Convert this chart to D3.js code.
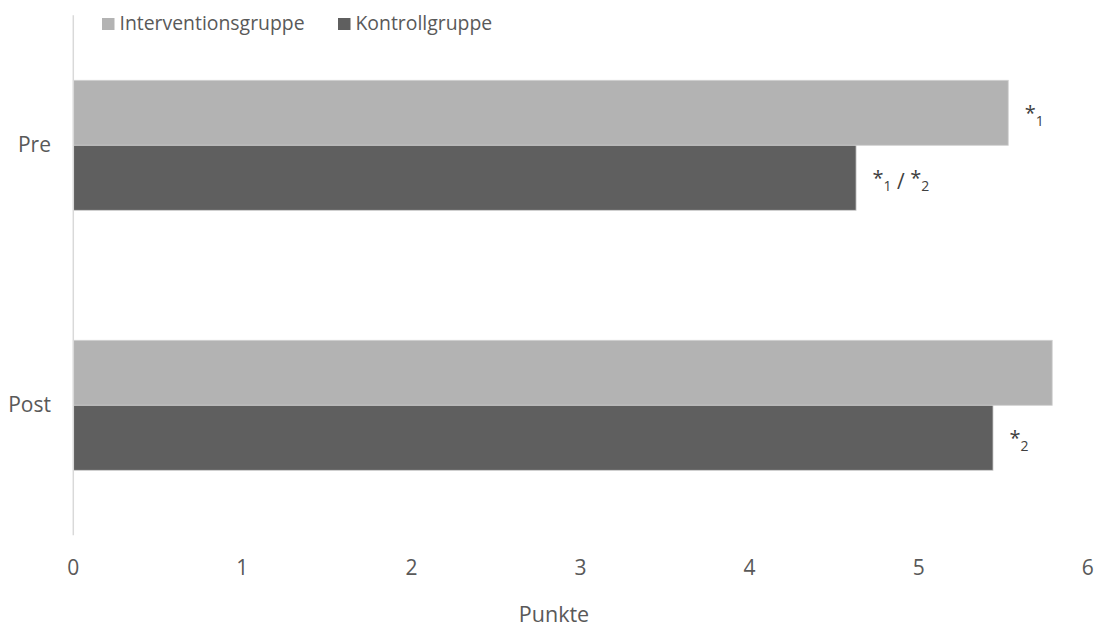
<!DOCTYPE html>
<html>
<head>
<meta charset="utf-8">
<script src="https://cdn.jsdelivr.net/npm/d3@7"></script>
<style>
  html, body { margin: 0; padding: 0; background: #fff; }
  svg { display: block; font-family: "Open Sans", "Noto Sans", sans-serif; }
</style>
</head>
<body>
<svg id="chart" width="1099" height="631"></svg>
<script>
const categories = ["Pre", "Post"];
const seriesNames = ["Interventionsgruppe", "Kontrollgruppe"];
const interventionValues = [5.53, 5.79];
const kontrollValues = [4.63, 5.44];
const xTicks = [0, 1, 2, 3, 4, 5, 6];
const annotations = [
  { cat: "Pre", series: "Interventionsgruppe", parts: [["*", "main"], ["1", "sub"]] },
  { cat: "Pre", series: "Kontrollgruppe", parts: [["*", "main"], ["1", "sub"], [" / ", "slash"], ["*", "main"], ["2", "sub"]] },
  { cat: "Post", series: "Kontrollgruppe", parts: [["*", "main"], ["2", "sub"]] }
];
const colors = { "Interventionsgruppe": "#b3b3b3", "Kontrollgruppe": "#5f5f5f" };

const svg = d3.select("#chart");
const x = d3.scaleLinear().domain([0, 6]).range([73.3, 1087.7]);
const y = d3.scaleBand().domain(categories).range([15.3, 535.3]).paddingInner(0).paddingOuter(0);
const inner = d3.scaleBand().domain(seriesNames).range([0, 130]);

const data = [];
categories.forEach((c, i) => {
  data.push({ cat: c, series: seriesNames[0], value: interventionValues[i] });
  data.push({ cat: c, series: seriesNames[1], value: kontrollValues[i] });
});
const barY = d => y(d.cat) + y.bandwidth() / 2 - 65 + inner(d.series);

svg.selectAll("rect.bar").data(data).enter().append("rect")
  .attr("class", "bar")
  .attr("x", x(0))
  .attr("y", barY)
  .attr("width", d => x(d.value) - x(0))
  .attr("height", inner.bandwidth())
  .attr("fill", d => colors[d.series])
  .attr("stroke", "#d0d0d0")
  .attr("stroke-width", 0.8);

// vertical category axis line
svg.append("line")
  .attr("x1", x(0)).attr("x2", x(0))
  .attr("y1", y.range()[0]).attr("y2", y.range()[1])
  .attr("stroke", "#d9d9d9").attr("stroke-width", 1.5);

// category labels
svg.selectAll("text.cat").data(categories).enter().append("text")
  .attr("class", "cat")
  .attr("x", 51)
  .attr("y", d => y(d) + y.bandwidth() / 2 + 6.5)
  .attr("text-anchor", "end")
  .attr("fill", "#595959")
  .attr("font-size", 21)
  .text(d => d);

// x tick labels
svg.selectAll("text.tick").data(xTicks).enter().append("text")
  .attr("class", "tick")
  .attr("x", d => x(d))
  .attr("y", 574.5)
  .attr("text-anchor", "middle")
  .attr("fill", "#595959")
  .attr("font-size", 21)
  .text(d => d);

// axis title
svg.append("text")
  .attr("x", 554).attr("y", 622)
  .attr("text-anchor", "middle")
  .attr("fill", "#595959")
  .attr("font-size", 21.5)
  .text("Punkte");

// legend
const legendX = [102, 338];
seriesNames.forEach((s, i) => {
  svg.append("rect")
    .attr("x", legendX[i]).attr("y", 18)
    .attr("width", 12.5).attr("height", 12)
    .attr("fill", colors[s]);
  svg.append("text")
    .attr("x", legendX[i] + 17.5).attr("y", 30)
    .attr("fill", "#595959")
    .attr("font-size", 19.4)
    .text(s);
});

// significance annotations
const dyFor = { main: 0, sub: 5.5, slash: 3.5 };
const sizeFor = { main: 20, sub: 14, slash: 21 };
annotations.forEach(a => {
  const d = data.find(e => e.cat === a.cat && e.series === a.series);
  const t = svg.append("text")
    .attr("x", x(d.value) + 16.5)
    .attr("y", barY(d) + inner.bandwidth() / 2 + 7.5)
    .attr("fill", "#404040")
    .attr("font-size", 20)
    .attr("xml:space", "preserve");
  let prev = "main";
  a.parts.forEach(p => {
    const [txt, kind] = p;
    t.append("tspan").text(txt)
      .attr("font-size", sizeFor[kind])
      .attr("dy", dyFor[kind] - dyFor[prev]);
    prev = kind;
  });
});
</script>
</body>
</html>
